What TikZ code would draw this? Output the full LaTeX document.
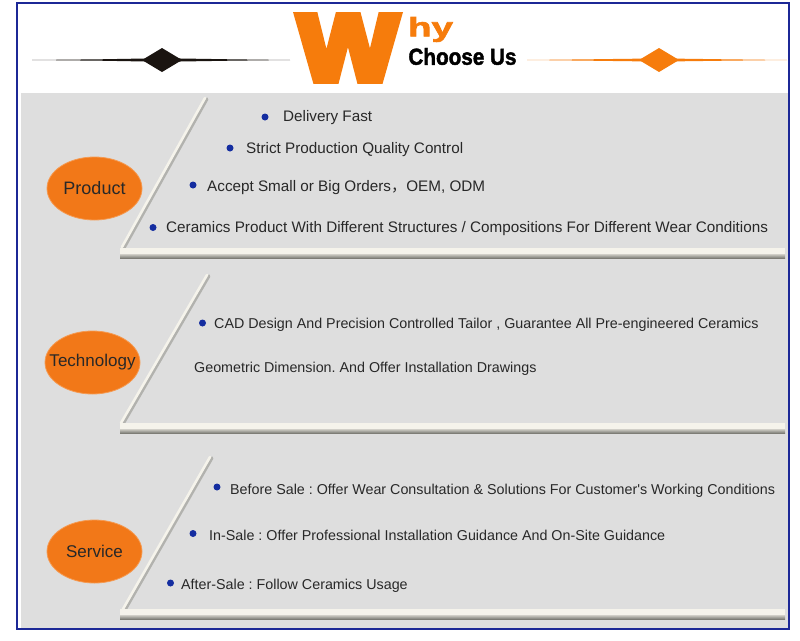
\documentclass[tikz,border=0pt]{standalone}
\usepackage{graphicx}
\usepackage{fontspec}
\setmainfont{Liberation Sans}[Ligatures=TeXOff]
\newfontfamily\heavyfont{Liberation Sans}[UprightFont=* Bold, FakeBold=8]
\newfontfamily\semiheavy{Liberation Sans}[UprightFont=* Bold, FakeBold=2]
\newfontfamily\cjkfont{Noto Sans CJK SC}
\usetikzlibrary{shapes.geometric}
\definecolor{frameblue}{RGB}{28,40,150}
\definecolor{panelgray}{RGB}{222,222,222}
\definecolor{ellorange}{RGB}{242,120,24}
\definecolor{worange}{RGB}{246,124,12}
\definecolor{inkblack}{RGB}{26,20,16}
\definecolor{txtgray}{RGB}{40,40,40}
\definecolor{labgray}{RGB}{40,40,40}
\definecolor{bulletblue}{RGB}{20,45,160}
\definecolor{shelflight}{RGB}{245,243,235}
\definecolor{shelfdark}{RGB}{115,115,108}
\tikzset{
  ell/.style={ellipse, fill=ellorange, draw=ellorange!75!white, line width=0.8pt,
              minimum width=95pt, minimum height=63pt, inner sep=0pt},
  lab/.style={inner sep=0pt, text=labgray},
  dot/.style={circle, fill=bulletblue, minimum size=7pt, inner sep=0pt},
  txtP/.style={inner sep=0pt, text=txtgray, anchor=base west, font=\fontsize{15.25}{18}\selectfont},
  txtS/.style={inner sep=0pt, text=txtgray, anchor=base west, font=\fontsize{14.3}{17}\selectfont},
}
\frenchspacing
\begin{document}
\begin{tikzpicture}[x=1pt,y=-1pt]
\useasboundingbox (0,0) rectangle (800,640);
\fill[white] (0,0) rectangle (800,640);
\fill[panelgray] (20.5,93) rectangle (788,628);
\draw[frameblue, line width=2.5pt] (17,3) rectangle (789,629);

% header ornaments
\fill[inkblack] (32,60) -- (100,59.3) -- (162,58.2) -- (230,59.3) -- (290,60) -- (230,60.7) -- (162,61.8) -- (100,60.7) -- cycle;
\fill[inkblack] (142,60) -- (162,48) -- (182,60) -- (162,72) -- cycle;
\fill[worange] (527,60) -- (590,59.3) -- (659,58.4) -- (725,59.3) -- (787,60) -- (725,60.7) -- (659,61.6) -- (590,60.7) -- cycle;
\fill[worange] (639,60) -- (659,48) -- (679,60) -- (659,72) -- cycle;

% header title
\begin{scope}
\clip (292,12) rectangle (404,83);
\node[inner sep=0pt, text=worange] (bigW) at (348,47.5) {\resizebox*{100pt}{66pt}{\heavyfont W}};
\end{scope}
\node[inner sep=0pt, text=worange] (hy) at (430.5,29.5) {\resizebox*{45pt}{25pt}{\semiheavy hy}};
\node[inner sep=0pt, text=black] (choose) at (462.5,56.5) {\resizebox*{108pt}{17pt}{\semiheavy Choose Us}};

% ---------- Product ----------
\draw[line width=3.4pt, shelfdark!55, line cap=round] (206.8,99) -- (123.8,248);
\draw[line width=2.6pt, shelflight, line cap=round] (205,98) -- (122,247);
\shade[top color=shelflight!80!shelfdark, bottom color=shelfdark] (120,253.5) rectangle (785,258.5);
\fill[shelflight] (120,248) rectangle (785,254);
\node[ell] (prod) at (94.5,188.5) {};
\node[lab, font=\fontsize{18}{20}\selectfont] (prodlab) at (prod) {Product};
\node[dot] (pb1) at (265,117) {};
\node[txtP] (p1) at (283,121.5) {Delivery Fast};
\node[dot] (pb2) at (230,148) {};
\node[txtP] (p2) at (246,153.5) {Strict Production Quality Control};
\node[dot] (pb3) at (193,185) {};
\node[txtP] (p3) at (207,191) {Accept Small or Big Orders{\cjkfont ，}OEM, ODM};
\node[dot] (pb4) at (153,227.5) {};
\node[txtP] (p4) at (166,232.5) {Ceramics Product With Different Structures / Compositions For Different Wear Conditions};

% ---------- Technology ----------
\draw[line width=3.4pt, shelfdark!55, line cap=round] (208.8,276) -- (122.8,424);
\draw[line width=2.6pt, shelflight, line cap=round] (207,275) -- (121,423);
\shade[top color=shelflight!80!shelfdark, bottom color=shelfdark] (120,428.5) rectangle (785,433.5);
\fill[shelflight] (120,423) rectangle (785,429);
\node[ell] (tech) at (92.5,362.5) {};
\node[lab, font=\fontsize{17}{19}\selectfont] (techlab) at (tech) {Technology};
\node[dot] (tb1) at (202.5,323) {};
\node[txtS] (t1) at (214,328) {CAD Design And Precision Controlled Tailor , Guarantee All Pre-engineered Ceramics};
\node[txtS] (t2) at (194,372.5) {Geometric Dimension. And Offer Installation Drawings};

% ---------- Service ----------
\draw[line width=3.4pt, shelfdark!55, line cap=round] (211.8,458) -- (124.8,610);
\draw[line width=2.6pt, shelflight, line cap=round] (210,457) -- (123,609);
\shade[top color=shelflight!80!shelfdark, bottom color=shelfdark] (120,614.5) rectangle (785,619.5);
\fill[shelflight] (120,609) rectangle (785,615);
\node[ell] (serv) at (94.5,551.5) {};
\node[lab, font=\fontsize{17}{19}\selectfont] (servlab) at (serv) {Service};
\node[dot] (sb1) at (217,487) {};
\node[txtS] (s1) at (230,494) {Before Sale : Offer Wear Consultation \& Solutions For Customer's Working Conditions};
\node[dot] (sb2) at (193,533.5) {};
\node[txtS] (s2) at (209,540.5) {In-Sale : Offer Professional Installation Guidance And On-Site Guidance};
\node[dot] (sb3) at (170.5,583) {};
\node[txtS] (s3) at (181,589) {After-Sale : Follow Ceramics Usage};
\end{tikzpicture}
\end{document}
